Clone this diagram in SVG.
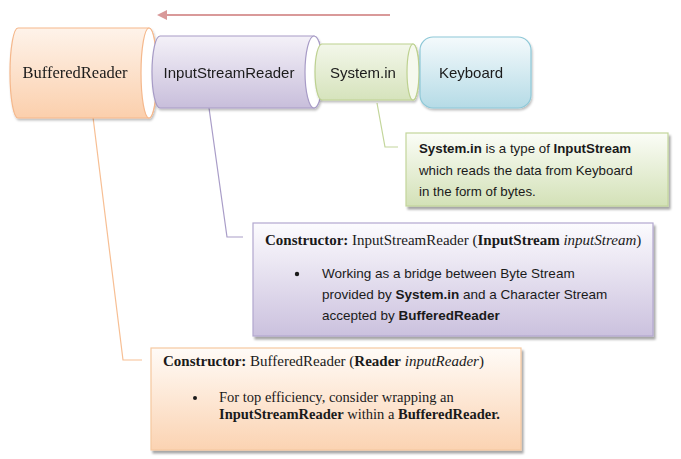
<svg xmlns="http://www.w3.org/2000/svg" width="681" height="459" viewBox="0 0 681 459">
<defs>
<linearGradient id="gO" x1="0" y1="0" x2="0" y2="1"><stop offset="0" stop-color="#fef3ea"/><stop offset="1" stop-color="#fbcfac"/></linearGradient>
<linearGradient id="gP" x1="0" y1="0" x2="0" y2="1"><stop offset="0" stop-color="#f4f1f8"/><stop offset="1" stop-color="#c8bedb"/></linearGradient>
<linearGradient id="gG" x1="0" y1="0" x2="0" y2="1"><stop offset="0" stop-color="#f3f7ea"/><stop offset="1" stop-color="#d6e3bc"/></linearGradient>
<linearGradient id="gB" x1="0" y1="0" x2="0" y2="1"><stop offset="0" stop-color="#f4fafc"/><stop offset="1" stop-color="#b5dbe6"/></linearGradient>
<linearGradient id="cO" x1="0" y1="0" x2="0" y2="1"><stop offset="0" stop-color="#fffbf7"/><stop offset="1" stop-color="#fbd3b2"/></linearGradient>
<linearGradient id="cP" x1="0" y1="0" x2="0" y2="1"><stop offset="0" stop-color="#fcfbfe"/><stop offset="1" stop-color="#cbc1de"/></linearGradient>
<linearGradient id="cG" x1="0" y1="0" x2="0" y2="1"><stop offset="0" stop-color="#fbfdf7"/><stop offset="1" stop-color="#d3e1b7"/></linearGradient>
<filter id="sh" x="-5%" y="-5%" width="115%" height="125%"><feDropShadow dx="2" dy="3" stdDeviation="1.2" flood-color="#000" flood-opacity="0.35"/></filter>
<filter id="shc" x="-5%" y="-5%" width="115%" height="125%"><feDropShadow dx="1" dy="2" stdDeviation="1" flood-color="#000" flood-opacity="0.25"/></filter>
<marker id="ah" viewBox="0 0 10 10" refX="1" refY="5" markerWidth="5" markerHeight="5" orient="auto-start-reverse"><path d="M0,0 L10,5 L0,10 z" fill="#d99999"/></marker>
</defs>
<style>
.sans{font-family:"Liberation Sans","Open Sans",sans-serif;fill:#1a1a1a}
.serif{font-family:"Liberation Serif","DejaVu Serif",serif;fill:#1a1a1a}
.b{font-weight:bold}
.i{font-style:italic}
.face{fill:#ffffff}
</style>

<g id="connectors" fill="none" stroke-width="1.2">
<line x1="390" y1="15" x2="166" y2="15" stroke="#d99999" stroke-width="2" marker-end="url(#ah)"/>
<polyline points="377,103 385,147 398,147" stroke="#c3d69b"/>
<polyline points="209,108 227,237 243,237" stroke="#a99dc8"/>
<polyline points="93,117 123,360 142,360" stroke="#f7bf94"/>
</g>

<g id="bufferedreader" filter="url(#shc)">
<path d="M18,28 L149,28 A8,45 0 0 1 149,118 L18,118 A8,45 0 0 1 18,28 Z" fill="url(#gO)" stroke="#f5b88c" stroke-width="1.2"/>
<ellipse cx="149" cy="73" rx="8" ry="45" class="face" stroke="#f5b88c" stroke-width="1.2"/>
<text x="75" y="78" class="serif" font-size="16.5" text-anchor="middle">BufferedReader</text>
</g>

<g id="inputstreamreader" filter="url(#shc)">
<path d="M160,36 L314,36 A9,36 0 0 1 314,108 L160,108 A8,36 0 0 1 160,36 Z" fill="url(#gP)" stroke="#a79bc6" stroke-width="1.2"/>
<ellipse cx="314" cy="72" rx="9" ry="36" class="face" stroke="#a79bc6" stroke-width="1.2"/>
<text x="229" y="78" class="sans" font-size="15" text-anchor="middle">InputStreamReader</text>
</g>

<g id="systemin" filter="url(#shc)">
<path d="M322,44 L413,44 A6,28 0 0 1 413,100 L322,100 A7,28 0 0 1 322,44 Z" fill="url(#gG)" stroke="#bdd190" stroke-width="1.2"/>
<ellipse cx="413" cy="72" rx="6" ry="28" fill="#f6f9ee" stroke="#bdd190" stroke-width="1.2"/>
<text x="363" y="78" class="sans" font-size="15" text-anchor="middle">System.in</text>
</g>

<g id="keyboard" filter="url(#shc)">
<rect x="420" y="37" width="111" height="71" rx="13" fill="url(#gB)" stroke="#8ec8d7" stroke-width="1.2"/>
<text x="471" y="78" class="sans" font-size="15" text-anchor="middle">Keyboard</text>
</g>

<g id="note-systemin">
<rect x="406" y="133" width="262" height="73" fill="url(#cG)" stroke="#c3d69b" stroke-width="1.2" filter="url(#sh)"/>
<text x="419" y="153" class="sans" font-size="13.3"><tspan class="b">System.in</tspan> is a type of <tspan class="b">InputStream</tspan></text>
<text x="419" y="175" class="sans" font-size="13.3">which reads the data from Keyboard</text>
<text x="419" y="196" class="sans" font-size="13.3">in the form of bytes.</text>
</g>

<g id="note-inputstreamreader">
<rect x="253" y="223" width="400" height="113" fill="url(#cP)" stroke="#b2a7cf" stroke-width="1.2" filter="url(#sh)"/>
<text x="265" y="245" class="serif" font-size="15"><tspan class="b">Constructor:</tspan> InputStreamReader (<tspan class="b">InputStream</tspan> <tspan class="i">inputStream</tspan>)</text>
<circle cx="297" cy="274" r="2.2" fill="#1a1a1a"/>
<text x="322" y="278" class="sans" font-size="13.5">Working as a bridge  between Byte Stream</text>
<text x="322" y="299" class="sans" font-size="13.5">provided by <tspan class="b">System.in</tspan> and a Character  Stream</text>
<text x="322" y="320" class="sans" font-size="13.5">accepted by <tspan class="b">BufferedReader</tspan></text>
</g>

<g id="note-bufferedreader">
<rect x="151" y="348" width="370" height="102" fill="url(#cO)" stroke="#f6c8a0" stroke-width="1.2" filter="url(#sh)"/>
<text x="163" y="366" class="serif" font-size="15"><tspan class="b">Constructor:</tspan> BufferedReader (<tspan class="b">Reader</tspan> <tspan class="i">inputReader</tspan>)</text>
<circle cx="195" cy="398" r="2" fill="#1a1a1a"/>
<text x="219" y="402" class="serif" font-size="14.5">For top efficiency, consider wrapping an</text>
<text x="219" y="419" class="serif" font-size="14.5"><tspan class="b">InputStreamReader</tspan> within a <tspan class="b">BufferedReader.</tspan></text>
</g>
</svg>
